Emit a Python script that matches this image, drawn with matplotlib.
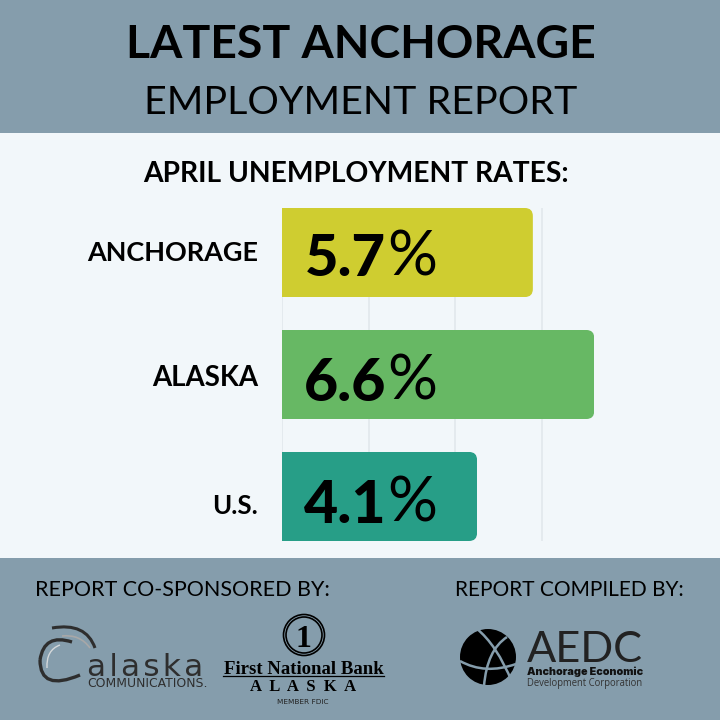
import matplotlib
matplotlib.use("Agg")
import matplotlib.pyplot as plt
from matplotlib.patches import Rectangle, FancyBboxPatch, Circle, PathPatch
from matplotlib.path import Path

# ---- data ----
categories = ["ANCHORAGE", "ALASKA", "U.S."]
rates = [5.7, 6.6, 4.1]                 # printed values
drawn_lengths = [5.8, 7.22, 4.51]       # bar lengths as drawn against the grid
bar_colors = ["#CFCD30", "#67B864", "#279E87"]
grid_ticks = [0, 2, 4, 6]

BAND = "#859DAC"
PANEL = "#F2F7FA"
GRID = "#E2E8EC"
SANS = "Lato"
SERIF = "Liberation Serif"

fig = plt.figure(figsize=(7.2, 7.2), dpi=100, facecolor=PANEL)
bg = fig.add_axes([0, 0, 1, 1], zorder=0)
bg.set_xlim(0, 720); bg.set_ylim(720, 0); bg.axis("off")
bg.add_patch(Rectangle((0, 0), 720, 133, color=BAND, lw=0))
bg.add_patch(Rectangle((0, 558), 720, 162, color=BAND, lw=0))

# ---- chart ----
L, R, T, B = 282, 640, 208, 541
ax = fig.add_axes([L/720, 1-B/720, (R-L)/720, (B-T)/720], zorder=1)
ax.patch.set_alpha(0)
px_per_x = 43.25
ax.set_xlim(0, (R-L)/px_per_x)
ax.set_ylim(2.365, -0.365)
for s in ax.spines.values():
    s.set_visible(False)
ax.set_xticks(grid_ticks); ax.set_yticks(range(len(categories)))
ax.set_xticklabels([]); ax.set_yticklabels([])
ax.tick_params(length=0)
ax.grid(axis="x", color=GRID, lw=1.2, zorder=0)
ax.set_axisbelow(True)

bars = ax.barh(range(len(categories)), drawn_lengths, height=0.73,
               color=bar_colors, lw=0, zorder=2)
radius_px = 8
for bar in bars:
    clip = FancyBboxPatch((-1, bar.get_y()), bar.get_width()+1, bar.get_height(),
                          boxstyle=f"round,pad=0,rounding_size={radius_px/px_per_x}",
                          mutation_aspect=px_per_x/122.0,
                          transform=ax.transData, fc="none", ec="none")
    ax.add_patch(clip)
    bar.set_clip_path(clip)

renderer = fig.canvas.get_renderer()

top = fig.add_axes([0, 0, 1, 1], zorder=3)
top.set_xlim(0, 720); top.set_ylim(720, 0); top.axis("off")

def fit(x0, x1, y, s, weight="normal", family=SANS, color="black", size=20):
    """Place text between pixels x0 and x1, vertically centred on y."""
    t = top.text(x0, y, s, fontsize=size, fontweight=weight, family=family, color=color,
                 ha="left", va="center_baseline", zorder=5)
    w = t.get_window_extent(renderer).width
    t.set_fontsize(size*(x1-x0)/w)
    return t

def curve(pts, color, lw):
    codes = [Path.MOVETO] + [Path.CURVE3]*(len(pts)-1)
    top.add_patch(PathPatch(Path(pts, codes), fc="none", ec=color, lw=lw, capstyle="butt"))

fit(126, 595, 41, "LATEST ANCHORAGE", weight="bold")
fit(144, 575, 99, "EMPLOYMENT REPORT")
fit(143, 570, 171, "APRIL UNEMPLOYMENT RATES:", weight="bold")

for lab, x0, yc in zip(categories, [87, 152, 212], [251, 375, 504]):
    fit(x0, 258, yc, lab, weight="bold")

for rate, x0, yc in zip(rates, [305, 304, 304], [255, 379, 501]):
    fit(x0, 386, yc, f"{rate:.1f}", weight="black")
    fit(387, 437, yc-3, "%", weight="normal")

fit(35, 330, 588, "REPORT CO-SPONSORED BY:")
fit(455, 684, 588, "REPORT COMPILED BY:")

# ---- Alaska Communications logo ----
DK = "#2E2E2E"
curve([(52, 628), (86, 622), (95, 648)], DK, 2.2)
curve([(72, 642), (44, 633), (40, 660)], DK, 2.4)
curve([(40, 660), (40, 692), (80, 675)], DK, 2.4)
curve([(62, 636), (80, 634), (90, 648)], "#A8A8A8", 1.2)
curve([(60, 645), (46, 650), (47, 668)], "#D5D8DA", 1.0)
fit(87, 203, 664, "a\u200al\u200aa\u200as\u200ak\u200aa", color=DK, family="DejaVu Sans")
fit(87, 207, 682, "COMMUNICATIONS.", color=DK, family="DejaVu Sans")

# ---- First National Bank logo ----
top.add_patch(Circle((304, 635), 20.5, fc="none", ec="black", lw=1.2))
top.add_patch(Circle((304, 635), 18, fc="none", ec="black", lw=1.2))
fit(296, 312, 636, "1", weight="bold", family=SERIF)
fit(224, 383, 668, "First National Bank", weight="bold", family=SERIF)
top.plot([223, 384], [675.5, 675.5], color="black", lw=0.9)
fit(250, 357, 685, "A  L  A  S  K  A", weight="bold", family=SERIF)
fit(277, 329, 701, "MEMBER FDIC", color="#222222", family="Liberation Sans Narrow")

# ---- AEDC logo ----
top.add_patch(Circle((488, 657), 28, fc="black", ec="none"))
curve([(476, 628), (497, 645), (512, 682)], BAND, 1.8)
curve([(460, 661), (485, 675), (516, 664)], BAND, 1.8)
curve([(507, 637), (487, 650), (484, 686)], BAND, 1.8)
fit(527, 643, 646, "AEDC", family="Lato", weight="normal", color="#222222")
fit(527, 643, 671, "Anchorage Economic", weight="black", color="#111111", family="Inter")
fit(527, 643, 682, "Development Corporation", color="#333333", family="Open Sans")

fig.savefig("out.png", dpi=100, facecolor=PANEL)
